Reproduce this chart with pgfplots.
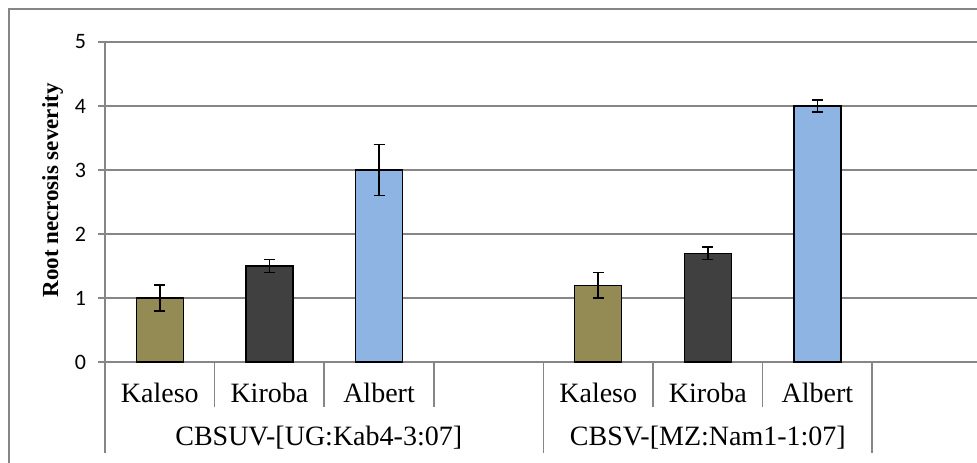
\documentclass[border=0pt]{standalone}
\usepackage{pgfplots}
\pgfplotsset{compat=1.18}
\usepackage{fontspec}
\setmainfont{Liberation Serif}
\newfontfamily\calibri{Carlito}
\definecolor{gridC}{HTML}{868686}
\definecolor{kalesoC}{HTML}{948A54}
\definecolor{kirobaC}{HTML}{404040}
\definecolor{albertC}{HTML}{8DB4E2}
\begin{document}
\begin{tikzpicture}[x=1pt,y=1pt]
\useasboundingbox (0,0) rectangle (488.5,231);
\draw[gridC, line width=0.7pt] (4.5,-20) -- (4.5,226.5) -- (520,226.5);
\begin{axis}[
  at={(52.5pt,50pt)}, anchor=south west,
  scale only axis, width=436pt, height=160pt,
  xmin=-0.5, xmax=7.456, ymin=0, ymax=5,
  ytick={0,1,2,3,4,5}, xtick=\empty,
  ymajorgrids, grid style={gridC, line width=0.65pt},
  axis lines*=left,
  axis line style={gridC, line width=1pt},
  tick align=outside, major tick length=3.5pt,
  y tick style={gridC, line width=0.65pt},
  /pgf/number format/assume math mode=true,
  yticklabel style={font=\calibri\fontsize{11}{12}\selectfont, xshift=-2.5pt},
  ylabel={\textbf{Root necrosis severity}},
  ylabel style={at={(axis description cs:-0.06,0.536)}, anchor=center, font=\fontsize{11.5}{13}\selectfont},
  ybar, bar width=23.5pt, bar shift=0pt,
  clip=false,
  error bars/y dir=both, error bars/y explicit,
  error bars/error bar style={black, line width=0.8pt},
  error bars/error mark options={rotate=90, mark size=2.75pt, black, line width=0.8pt},
]
\addplot[fill=kalesoC, draw=black, line width=0.7pt] coordinates {(0,1.0) +- (0,0.2) (4,1.2) +- (0,0.2)};
\addplot[fill=kirobaC, draw=black, line width=0.7pt] coordinates {(1,1.5) +- (0,0.1) (5,1.7) +- (0,0.1)};
\addplot[fill=albertC, draw=black, line width=0.7pt] coordinates {(2,3.0) +- (0,0.4) (6,4.0) +- (0,0.09)};
% category separators
\draw[gridC, line width=0.75pt] (axis cs:0.5,0) -- ([yshift=-22.5pt]axis cs:0.5,0);
\draw[gridC, line width=0.75pt] (axis cs:1.5,0) -- ([yshift=-22.5pt]axis cs:1.5,0);
\draw[gridC, line width=0.75pt] (axis cs:2.5,0) -- ([yshift=-22.5pt]axis cs:2.5,0);
\draw[gridC, line width=0.75pt] (axis cs:4.5,0) -- ([yshift=-22.5pt]axis cs:4.5,0);
\draw[gridC, line width=0.75pt] (axis cs:5.5,0) -- ([yshift=-22.5pt]axis cs:5.5,0);
\draw[gridC, line width=1pt] (axis cs:-0.5,0) -- ([yshift=-45.5pt]axis cs:-0.5,0);
\draw[gridC, line width=0.75pt] (axis cs:3.5,0) -- ([yshift=-45.5pt]axis cs:3.5,0);
\draw[gridC, line width=0.75pt] (axis cs:6.5,0) -- ([yshift=-45.5pt]axis cs:6.5,0);
% first-level labels
\node[font=\fontsize{14}{16}\selectfont, yshift=-15.5pt] at (axis cs:0,0) {Kaleso};
\node[font=\fontsize{14}{16}\selectfont, yshift=-15.5pt] at (axis cs:1,0) {Kiroba};
\node[font=\fontsize{14}{16}\selectfont, yshift=-15.5pt] at (axis cs:2,0) {Albert};
\node[font=\fontsize{14}{16}\selectfont, yshift=-15.5pt] at (axis cs:4,0) {Kaleso};
\node[font=\fontsize{14}{16}\selectfont, yshift=-15.5pt] at (axis cs:5,0) {Kiroba};
\node[font=\fontsize{14}{16}\selectfont, yshift=-15.5pt] at (axis cs:6,0) {Albert};
% second-level labels
\node[font=\fontsize{14}{16}\selectfont, yshift=-38pt] at (axis cs:1.45,0) {CBSUV-[UG:Kab4-3:07]};
\node[font=\fontsize{14}{16}\selectfont, yshift=-38pt] at (axis cs:5.0,0) {CBSV-[MZ:Nam1-1:07]};
\end{axis}
\end{tikzpicture}
\end{document}
